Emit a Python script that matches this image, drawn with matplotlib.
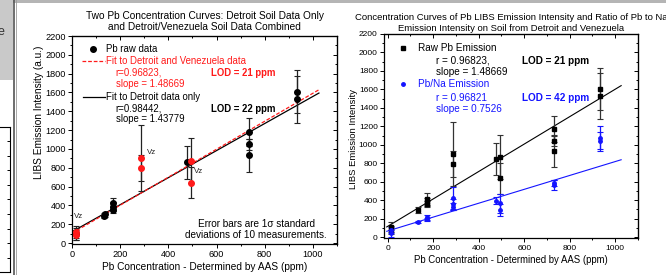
import matplotlib.pyplot as plt
from matplotlib.patches import Rectangle
from matplotlib.lines import Line2D
from matplotlib.ticker import MultipleLocator

plt.rcParams['font.family'] = ['Liberation Sans', 'DejaVu Sans']

# left chart: Detroit soil (black) and Venezuela soil (red)
det_conc = [15, 133, 136, 172, 172, 172, 478, 733, 733, 733, 932, 932]
det_int = [95, 290, 305, 422, 386, 355, 858, 1180, 1050, 935, 1610, 1530]
det_err = [60, 25, 25, 60, 50, 40, 175, 145, 60, 175, 230, 250]
vz_conc = [15, 15, 285, 285, 492, 492]
vz_int = [115, 85, 900, 795, 875, 640]
vz_err = [65, 50, 350, 140, 240, 165]

slope_all, icpt_all = 1.48669, 105
slope_det, icpt_det = 1.43779, 120
fit_x = [0, 1025]

# right chart: raw Pb emission (black) and Pb/Na ratio (blue)
raw_conc = [15, 15, 135, 172, 172, 172, 286, 286, 478, 492, 492, 733, 733, 733, 932, 932]
raw_int = [112, 76, 292, 412, 380, 357, 900, 795, 848, 870, 636, 1175, 1040, 930, 1605, 1525]
raw_err = [55, 40, 30, 65, 40, 35, 350, 140, 175, 240, 165, 140, 50, 175, 230, 250]
na_conc = [15, 15, 135, 172, 172, 286, 286, 286, 478, 492, 492, 733, 733, 932, 932]
na_int = [76, 40, 159, 213, 190, 420, 357, 328, 393, 365, 293, 588, 563, 1070, 1045]
na_err = [35, 35, 12, 25, 20, 125, 50, 40, 40, 100, 65, 30, 50, 135, 95]

slope_raw, icpt_raw = 1.48669, 115
slope_na, icpt_na = 0.7526, 65
fit_x2 = [-4, 1026]

RED = '#ff1a1a'
BLUE = '#1414ff'

fig = plt.figure(figsize=(6.66, 2.75), dpi=100)

# slide background bits around the charts
fig.patches.append(Rectangle((0, 0.71), 0.02, 0.29, transform=fig.transFigure,
                             facecolor='#c9c9c9', edgecolor='none'))
fig.patches.append(Rectangle((0.02, 0.989), 0.98, 0.011, transform=fig.transFigure,
                             facecolor='#b5b5b5', edgecolor='none'))
fig.lines.append(Line2D([0.0205, 0.0205], [0, 1], transform=fig.transFigure,
                        color='#555555', lw=1.2))
fig.lines.append(Line2D([0.0235, 0.0235], [0, 1], transform=fig.transFigure,
                        color='#9a9a9a', lw=0.6))
fig.text(-0.004, 0.885, 'e', fontsize=9, color='#333333', va='center')
side = fig.add_axes([-0.2, 0.01, 0.215, 0.53])
side.set_xticks([])
side.yaxis.set_major_locator(MultipleLocator(1))
side.set_ylim(0, 10)
side.tick_params(axis='y', right=True, left=False, labelright=False,
                 labelleft=False, direction='in', length=2.5, width=0.7)
for s in side.spines.values():
    s.set_linewidth(0.8)


def style_axes(ax, labelsize):
    # left/bottom ticks point out, mirrored top/right ticks point in
    ax.xaxis.set_major_locator(MultipleLocator(200))
    ax.xaxis.set_minor_locator(MultipleLocator(100))
    ax.yaxis.set_major_locator(MultipleLocator(200))
    ax.yaxis.set_minor_locator(MultipleLocator(100))
    ax.tick_params(which='both', direction='out', width=0.7, labelsize=labelsize,
                   pad=1.5, colors='black')
    ax.tick_params(which='major', length=3)
    ax.tick_params(which='minor', length=1.6)
    for s in ax.spines.values():
        s.set_linewidth(0.9)
    top = ax.secondary_xaxis('top')
    top.xaxis.set_major_locator(MultipleLocator(200))
    top.xaxis.set_minor_locator(MultipleLocator(100))
    top.tick_params(which='both', direction='in', labeltop=False, width=0.7)
    top.tick_params(which='major', length=3)
    top.tick_params(which='minor', length=1.6)
    right = ax.secondary_yaxis('right')
    right.yaxis.set_major_locator(MultipleLocator(200))
    right.yaxis.set_minor_locator(MultipleLocator(100))
    right.tick_params(which='both', direction='in', labelright=False, width=0.7)
    right.tick_params(which='major', length=3)
    right.tick_params(which='minor', length=1.6)


# ---------------- left chart ----------------
ax1 = fig.add_axes([72 / 666, 31 / 275, 265 / 666, 208 / 275])
ax1.set_xlim(0, 1100)
ax1.set_ylim(-10, 2200)
style_axes(ax1, 6.6)

ax1.plot(fit_x, [icpt_det + slope_det * x for x in fit_x], color='black', lw=0.9, zorder=2)
ax1.plot(fit_x, [icpt_all + slope_all * x for x in fit_x], color=RED, lw=0.9,
         ls=(0, (3, 1.5)), zorder=2)
ax1.errorbar(det_conc, det_int, yerr=det_err, fmt='o', color='black', ms=4,
             ecolor='#222222', elinewidth=0.9, capsize=2, capthick=0.8, zorder=3)
ax1.errorbar(vz_conc, vz_int, yerr=vz_err, fmt='o', color=RED, ms=4,
             ecolor='#222222', elinewidth=0.9, capsize=2, capthick=0.8, zorder=4)

for x, y in [(8, 280), (312, 965), (508, 758)]:
    ax1.text(x, y, 'Vz', fontsize=5.7, va='center', ha='left', color='#222222')

ax1.text(765, 145, 'Error bars are 1\u03c3 standard\ndeviations of 10 measurements.',
         fontsize=7.2, ha='center', va='center', linespacing=1.2)

# legend block
tr = ax1.transAxes
ax1.plot([0.078], [0.9375], 'o', color='black', ms=4, transform=tr)
ax1.text(0.128, 0.9375, 'Pb raw data', transform=tr, fontsize=6.9, va='center')
ax1.plot([0.037, 0.125], [0.880, 0.880], color=RED, lw=0.9, ls=(0, (3, 1.5)), transform=tr)
ax1.text(0.128, 0.880, 'Fit to Detroit and Venezuela data', transform=tr,
         fontsize=6.9, va='center', color=RED)
ax1.text(0.165, 0.8236, 'r=0.96823,', transform=tr, fontsize=6.9, va='center', color=RED)
ax1.text(0.165, 0.769, 'slope = 1.48669', transform=tr, fontsize=6.9, va='center', color=RED)
ax1.text(0.523, 0.8236, 'LOD = 21 ppm', transform=tr, fontsize=6.9, va='center',
         color=RED, fontweight='bold')
ax1.plot([0.040, 0.125], [0.705, 0.705], color='black', lw=0.9, transform=tr)
ax1.text(0.128, 0.705, 'Fit to Detroit data only', transform=tr, fontsize=6.9, va='center')
ax1.text(0.165, 0.650, 'r=0.98442,', transform=tr, fontsize=6.9, va='center')
ax1.text(0.165, 0.600, 'slope = 1.43779', transform=tr, fontsize=6.9, va='center')
ax1.text(0.523, 0.650, 'LOD = 22 ppm', transform=tr, fontsize=6.9, va='center',
         fontweight='bold')

ax1.text(0.5, 1.029, 'Two Pb Concentration Curves: Detroit Soil Data Only\n'
         'and Detroit/Venezuela Soil Data Combined', transform=tr, fontsize=7.3,
         ha='center', va='baseline', linespacing=1.18)
ax1.set_xlabel('Pb Concentration - Determined by AAS (ppm)', fontsize=7.3)
ax1.xaxis.set_label_coords(0.5, -0.085)
ax1.set_ylabel('LIBS Emission Intensity (a.u.)', fontsize=7.3)
ax1.yaxis.set_label_coords(-0.104, 0.635)

# ---------------- right chart ----------------
ax2 = fig.add_axes([384 / 666, 36.7 / 275, 254 / 666, 204.3 / 275])
ax2.set_xlim(-16, 1100)
ax2.set_ylim(-14, 2200)
style_axes(ax2, 6.0)

ax2.plot(fit_x2, [icpt_raw + slope_raw * x for x in fit_x2], color='black', lw=0.8, zorder=2)
ax2.plot(fit_x2, [icpt_na + slope_na * x for x in fit_x2], color=BLUE, lw=0.8, zorder=2)
ax2.errorbar(raw_conc, raw_int, yerr=raw_err, fmt='s', color='black', ms=2.3,
             ecolor='#333333', elinewidth=0.9, capsize=2, capthick=0.8, zorder=3)
ax2.errorbar(na_conc, na_int, yerr=na_err, fmt='o', color=BLUE, ms=2.5,
             ecolor=BLUE, elinewidth=0.9, capsize=2, capthick=0.8, zorder=3)

tr2 = ax2.transAxes
ax2.plot([0.0736], [0.933], 's', color='black', ms=2.3, transform=tr2)
ax2.text(0.135, 0.933, 'Raw Pb Emission', transform=tr2, fontsize=7.2, va='center')
ax2.text(0.205, 0.869, 'r = 0.96823,', transform=tr2, fontsize=7.2, va='center')
ax2.text(0.205, 0.815, 'slope = 1.48669', transform=tr2, fontsize=7.2, va='center')
ax2.text(0.542, 0.869, 'LOD = 21 ppm', transform=tr2, fontsize=7.2, va='center',
         fontweight='bold')
ax2.plot([0.0736], [0.754], 'o', color=BLUE, ms=2.5, transform=tr2)
ax2.text(0.135, 0.754, 'Pb/Na Emission', transform=tr2, fontsize=7.2, va='center', color=BLUE)
ax2.text(0.205, 0.688, 'r = 0.96821', transform=tr2, fontsize=7.2, va='center', color=BLUE)
ax2.text(0.205, 0.633, 'slope = 0.7526', transform=tr2, fontsize=7.2, va='center', color=BLUE)
ax2.text(0.542, 0.688, 'LOD = 42 ppm', transform=tr2, fontsize=7.2, va='center',
         color=BLUE, fontweight='bold')

ax2.text(0.5, 1.016, 'Concentration Curves of Pb LIBS Emission Intensity and Ratio of Pb to Na\n'
         'Emission Intensity on Soil from Detroit and Venezuela', transform=tr2,
         fontsize=6.8, ha='center', va='baseline', linespacing=1.27)
ax2.set_xlabel('Pb Concentration - Determined by AAS (ppm)', fontsize=6.9)
ax2.xaxis.set_label_coords(0.5, -0.082)
ax2.set_ylabel('LIBS Emission Intensity', fontsize=6.8)
ax2.yaxis.set_label_coords(-0.102, 0.486)

fig.savefig('out.png', dpi=100)
